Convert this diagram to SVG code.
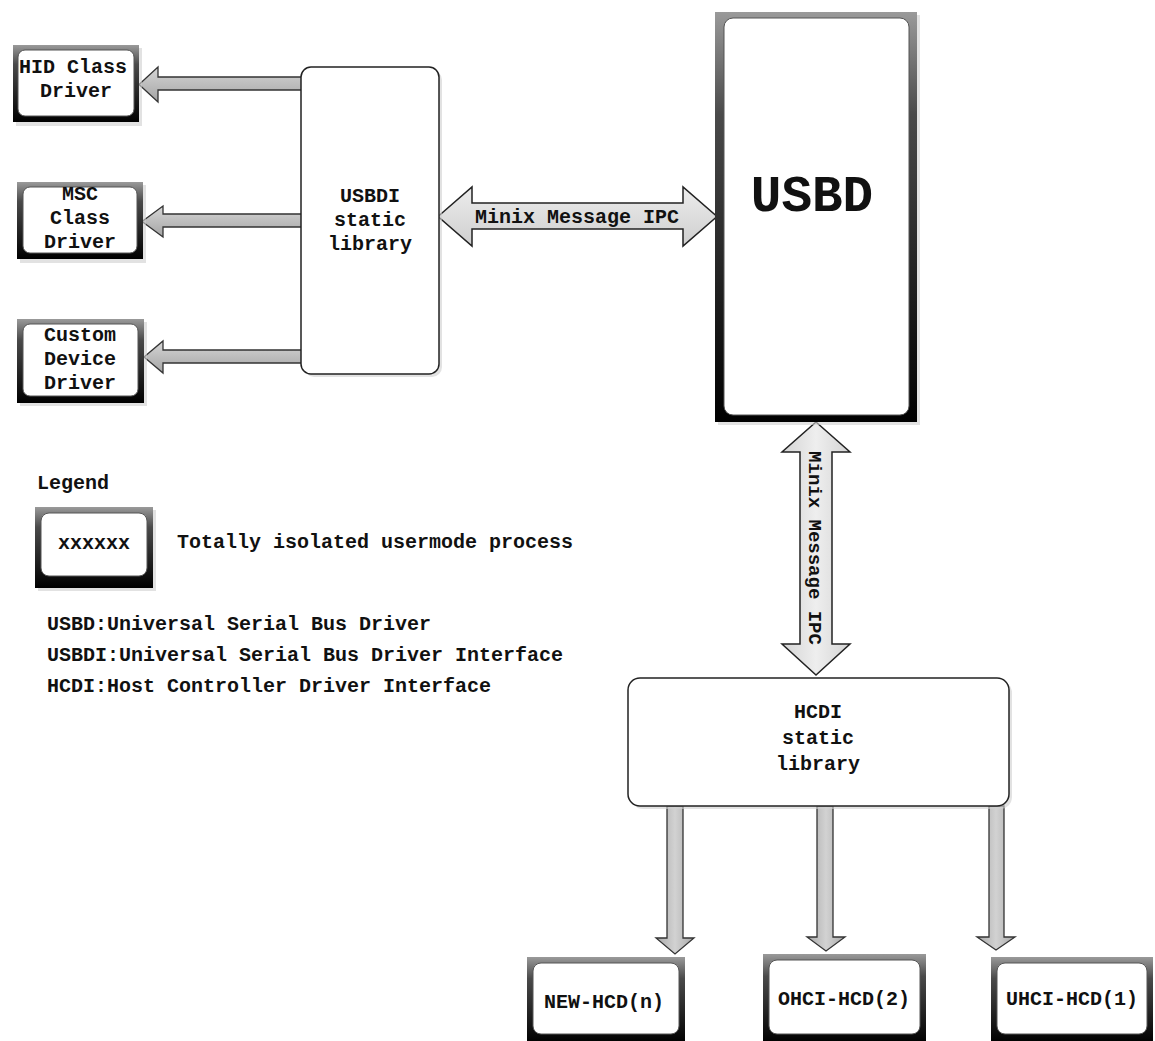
<svg xmlns="http://www.w3.org/2000/svg" width="1155" height="1041" viewBox="0 0 1155 1041">
  <defs>
    <!-- dark bevelled frame of a process box: grey at the top, black at the bottom -->
    <linearGradient id="frameGrad" x1="0" y1="0" x2="0" y2="1">
      <stop offset="0" stop-color="#9a9a9a"/>
      <stop offset="0.25" stop-color="#4a4a4a"/>
      <stop offset="1" stop-color="#000"/>
    </linearGradient>
    <!-- grey fill of horizontal block arrows -->
    <linearGradient id="arrowH" x1="0" y1="0" x2="0" y2="1">
      <stop offset="0" stop-color="#d6d6d6"/>
      <stop offset="1" stop-color="#a4a4a4"/>
    </linearGradient>
    <!-- grey fill of vertical block arrows -->
    <linearGradient id="arrowV" x1="0" y1="0" x2="1" y2="0">
      <stop offset="0" stop-color="#a8a8a8"/>
      <stop offset="0.5" stop-color="#d2d2d2"/>
      <stop offset="1" stop-color="#a8a8a8"/>
    </linearGradient>
    <!-- lighter fill of the IPC double arrows -->
    <linearGradient id="ipcH" x1="0" y1="0" x2="0" y2="1">
      <stop offset="0" stop-color="#ececec"/>
      <stop offset="1" stop-color="#cfcfcf"/>
    </linearGradient>
    <linearGradient id="ipcV" x1="0" y1="0" x2="1" y2="0">
      <stop offset="0" stop-color="#d4d4d4"/>
      <stop offset="0.5" stop-color="#eeeeee"/>
      <stop offset="1" stop-color="#d4d4d4"/>
    </linearGradient>
  </defs>
  <style>
    text { font-family: "Liberation Mono", "Courier New", monospace; font-weight: bold; fill: #111; }
    .lbl { font-size: 20px; text-anchor: middle; }
    .legend { font-size: 20px; }
    .big { font-size: 51px; text-anchor: middle; }
    .frame { fill: url(#frameGrad); }
    .inner { fill: #fff; stroke: #555; stroke-width: 1; }
    .shadow { fill: #cfcfcf; opacity: 0.6; }
    .lib { fill: #fff; stroke: #222; stroke-width: 1.5; }
    .arrH { fill: url(#arrowH); stroke: #333; stroke-width: 1.3; stroke-linejoin: miter; }
    .arrV { fill: url(#arrowV); stroke: #333; stroke-width: 1.3; stroke-linejoin: miter; }
    .ipcH { fill: url(#ipcH); stroke: #222; stroke-width: 1.5; }
    .ipcV { fill: url(#ipcV); stroke: #222; stroke-width: 1.5; }
  </style>

  <rect width="1155" height="1041" fill="#fff"/>

  <!-- connectors -->
  <g id="connectors">
    <!-- USBDI library to the class drivers -->
    <polygon class="arrH" points="302,77 158,77 158,67 139,84.5 158,102 158,90 302,90"/>
    <polygon class="arrH" points="302,214 163,214 163,206 142,221.5 163,237 163,227 302,227"/>
    <polygon class="arrH" points="302,350 163,350 163,341 144,357 163,373 163,363 302,363"/>
    <!-- USBDI library <-> USBD -->
    <g id="ipc-h">
      <polygon class="ipcH" points="438,216.5 472,187 472,203 683,203 683,187 717,216.5 683,246 683,229 472,229 472,246"/>
      <text class="lbl" x="577" y="223">Minix Message IPC</text>
    </g>
    <!-- USBD <-> HCDI library -->
    <g id="ipc-v">
      <polygon class="ipcV" points="816,422 850,452 832,452 832,644 850,644 816,675 782,644 800,644 800,452 782,452"/>
      <text class="lbl" style="font-size:19px" transform="translate(809,548) rotate(90)">Minix Message IPC</text>
    </g>
    <!-- HCDI library to the host controller drivers -->
    <polygon class="arrV" points="667,806 683,806 683,938 694,938 675,954 656,938 667,938"/>
    <polygon class="arrV" points="817,806 833,806 833,937 845,937 826,951 807,937 817,937"/>
    <polygon class="arrV" points="989,806 1004,806 1004,937 1015,937 996,950 977,937 989,937"/>
  </g>

  <!-- class drivers -->
  <g id="hid-driver">
    <rect class="shadow" x="16" y="48" width="126" height="78"/>
    <rect class="frame" x="13" y="45" width="126" height="77"/>
    <rect class="inner" x="18" y="50" width="116" height="66" rx="7"/>
    <text class="lbl" x="73" y="73">HID Class</text>
    <text class="lbl" x="76" y="97">Driver</text>
  </g>
  <g id="msc-driver">
    <rect class="shadow" x="20" y="185" width="126" height="78"/>
    <rect class="frame" x="17" y="182" width="126" height="77"/>
    <rect class="inner" x="23" y="187" width="114" height="66" rx="7"/>
    <text class="lbl" x="80" y="200">MSC</text>
    <text class="lbl" x="80" y="224">Class</text>
    <text class="lbl" x="80" y="248">Driver</text>
  </g>
  <g id="custom-driver">
    <rect class="shadow" x="20" y="322" width="127" height="84"/>
    <rect class="frame" x="17" y="319" width="127" height="84"/>
    <rect class="inner" x="23" y="324" width="115" height="72" rx="7"/>
    <text class="lbl" x="80" y="341">Custom</text>
    <text class="lbl" x="80" y="365">Device</text>
    <text class="lbl" x="80" y="389">Driver</text>
  </g>

  <!-- USBDI static library -->
  <g id="usbdi-lib">
    <rect class="shadow" x="304" y="70" width="138" height="307" rx="10"/>
    <rect class="lib" x="301" y="67" width="138" height="307" rx="10"/>
    <text class="lbl" x="370" y="202">USBDI</text>
    <text class="lbl" x="370" y="226">static</text>
    <text class="lbl" x="370" y="250">library</text>
  </g>

  <!-- USBD process -->
  <g id="usbd">
    <rect class="shadow" x="718" y="15" width="202" height="410"/>
    <rect class="frame" x="715" y="12" width="202" height="410"/>
    <rect class="inner" x="724" y="18" width="185" height="397" rx="9"/>
    <text class="big" x="812" y="211">USBD</text>
  </g>

  <!-- HCDI static library -->
  <g id="hcdi-lib">
    <rect class="shadow" x="631" y="681" width="381" height="128" rx="12"/>
    <rect class="lib" x="628" y="678" width="381" height="128" rx="12"/>
    <text class="lbl" x="818" y="718">HCDI</text>
    <text class="lbl" x="818" y="744">static</text>
    <text class="lbl" x="818" y="770">library</text>
  </g>

  <!-- host controller drivers -->
  <g id="new-hcd">
    <rect class="frame" x="527" y="957" width="158" height="86"/>
    <rect class="inner" x="533" y="963" width="146" height="71" rx="8"/>
    <text class="lbl" x="604" y="1008">NEW-HCD(n)</text>
  </g>
  <g id="ohci-hcd">
    <rect class="frame" x="763" y="954" width="163" height="89"/>
    <rect class="inner" x="769" y="960" width="151" height="74" rx="8"/>
    <text class="lbl" x="844" y="1005">OHCI-HCD(2)</text>
  </g>
  <g id="uhci-hcd">
    <rect class="frame" x="991" y="957" width="162" height="86"/>
    <rect class="inner" x="997" y="963" width="150" height="71" rx="8"/>
    <text class="lbl" x="1072" y="1005">UHCI-HCD(1)</text>
  </g>

  <!-- legend -->
  <g id="legend">
    <text class="legend" x="37" y="489">Legend</text>
    <g id="legend-box">
      <rect class="shadow" x="38" y="510" width="118" height="81"/>
      <rect class="frame" x="35" y="507" width="118" height="81"/>
      <rect class="inner" x="41" y="513" width="106" height="63" rx="8"/>
      <text class="lbl" x="94" y="549">xxxxxx</text>
    </g>
    <text class="legend" x="177" y="548">Totally isolated usermode process</text>
    <text class="legend" x="47" y="630">USBD:Universal Serial Bus Driver</text>
    <text class="legend" x="47" y="661">USBDI:Universal Serial Bus Driver Interface</text>
    <text class="legend" x="47" y="692">HCDI:Host Controller Driver Interface</text>
  </g>
</svg>
